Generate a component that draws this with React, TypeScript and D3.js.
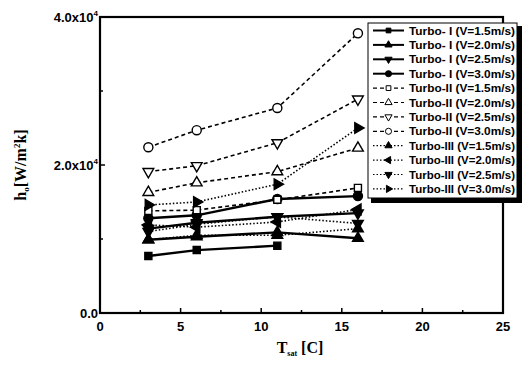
import React, { useEffect, useRef } from 'react';
import * as d3 from 'd3';

// saturation temperature [C]
const temps = [3, 6, 11, 16];

// h_o [W/m2k] per series, null = no point
const turboI_15 = [7700, 8500, 9100, null];
const turboI_20 = [9900, 10300, 10900, 10100];
const turboI_25 = [11400, 12200, 13000, 13500];
const turboI_30 = [12800, 13200, 15400, 15800];
const turboII_15 = [13800, 13900, 15300, 16900];
const turboII_20 = [16300, 17600, 19100, 22300];
const turboII_25 = [19100, 19900, 23000, 28900];
const turboII_30 = [22400, 24700, 27700, 37800];
const turboIII_15 = [9900, 10500, 10500, 11400];
const turboIII_20 = [11900, 11600, 12300, 14000];
const turboIII_25 = [11000, 12000, 13000, 12100];
const turboIII_30 = [14600, 15000, 17400, 25000];

const legendLabels = [
  'Turbo- I (V=1.5m/s)', 'Turbo- I (V=2.0m/s)', 'Turbo- I (V=2.5m/s)', 'Turbo- I (V=3.0m/s)',
  'Turbo-II (V=1.5m/s)', 'Turbo-II (V=2.0m/s)', 'Turbo-II (V=2.5m/s)', 'Turbo-II (V=3.0m/s)',
  'Turbo-III (V=1.5m/s)', 'Turbo-III (V=2.0m/s)', 'Turbo-III (V=2.5m/s)', 'Turbo-III (V=3.0m/s)',
];
const xTicks = [0, 5, 10, 15, 20, 25];
const yTicks = [0, 20000, 40000];

const App = () => {
  const svgRef = useRef<SVGSVGElement>(null);

  useEffect(() => {
    const width = 529;
    const height = 366;
    const margin = { left: 100, top: 17, right: 26, bottom: 53 };

    d3.select(svgRef.current).selectAll('*').remove();
    const svg = d3.select(svgRef.current).attr('width', width).attr('height', height);

    const x = d3.scaleLinear().domain([0, 25]).range([margin.left, width - margin.right]);
    const y = d3.scaleLinear().domain([0, 40000]).range([height - margin.bottom, margin.top]);

    const sans = '"Liberation Sans", Arial, sans-serif';
    const serif = '"Liberation Serif", "Times New Roman", serif';

    // series: values, marker shape, rotation, filled, line style
    const tri = d3.symbolTriangle;
    const series = [
      { v: turboI_15, s: d3.symbolSquare, r: 0, fill: true, dash: null },
      { v: turboI_20, s: tri, r: 0, fill: true, dash: null },
      { v: turboI_25, s: tri, r: 180, fill: true, dash: null },
      { v: turboI_30, s: d3.symbolCircle, r: 0, fill: true, dash: null },
      { v: turboII_15, s: d3.symbolSquare, r: 0, fill: false, dash: '4,3' },
      { v: turboII_20, s: tri, r: 0, fill: false, dash: '4,3' },
      { v: turboII_25, s: tri, r: 180, fill: false, dash: '4,3' },
      { v: turboII_30, s: d3.symbolCircle, r: 0, fill: false, dash: '4,3' },
      { v: turboIII_15, s: tri, r: 0, fill: true, dash: '1.5,2' },
      { v: turboIII_20, s: tri, r: -90, fill: true, dash: '1.5,2' },
      { v: turboIII_25, s: tri, r: 180, fill: true, dash: '1.5,2' },
      { v: turboIII_30, s: tri, r: 90, fill: true, dash: '1.5,2' },
    ];
    const symSize = (s) => (s === d3.symbolCircle ? 65 : s === d3.symbolSquare ? 50 : 50);

    // ticks (inward)
    const minorX = d3.range(2.5, 25, 5);
    svg.append('g').selectAll('line').data(xTicks.concat(minorX)).enter().append('line')
      .attr('x1', d => x(d)).attr('x2', d => x(d))
      .attr('y1', y(0)).attr('y2', d => y(0) - (d % 5 === 0 ? 5 : 3))
      .attr('stroke', '#000').attr('stroke-width', 1.5);
    svg.append('g').selectAll('line').data(yTicks.concat([10000, 30000])).enter().append('line')
      .attr('y1', d => y(d)).attr('y2', d => y(d))
      .attr('x1', x(0)).attr('x2', d => x(0) + (d % 20000 === 0 ? 5 : 3))
      .attr('stroke', '#000').attr('stroke-width', 1.5);

    // frame
    svg.append('rect')
      .attr('x', x(0)).attr('y', y(40000))
      .attr('width', x(25) - x(0)).attr('height', y(0) - y(40000))
      .attr('fill', 'none').attr('stroke', '#000').attr('stroke-width', 2.2);

    // tick labels
    svg.append('g').selectAll('text').data(xTicks).enter().append('text')
      .attr('x', d => x(d)).attr('y', y(0) + 18)
      .attr('text-anchor', 'middle')
      .attr('font-family', sans).attr('font-weight', 'bold').attr('font-size', 13)
      .text(d => d);
    const yl = svg.append('g').selectAll('text').data(yTicks).enter().append('text')
      .attr('x', x(0) - 2).attr('y', d => y(d) + 5)
      .attr('text-anchor', 'end')
      .attr('font-family', sans).attr('font-weight', 'bold').attr('font-size', 13);
    yl.each(function (d) {
      const t = d3.select(this);
      if (d === 0) { t.text('0.0'); return; }
      t.append('tspan').text((d / 10000).toFixed(1) + 'x10');
      t.append('tspan').attr('dy', -6).attr('font-size', 8).text('4');
    });

    // axis titles
    const xt = svg.append('text')
      .attr('x', 300).attr('y', 353).attr('text-anchor', 'middle')
      .attr('font-family', serif).attr('font-weight', 'bold').attr('font-size', 16);
    xt.append('tspan').text('T');
    xt.append('tspan').attr('dy', 3).attr('font-size', 8).text('sat');
    xt.append('tspan').attr('dy', -3).text(' [C]');

    const ytl = svg.append('text')
      .attr('transform', 'translate(26,165) rotate(-90)').attr('text-anchor', 'middle')
      .attr('font-family', serif).attr('font-weight', 'bold').attr('font-size', 16);
    ytl.append('tspan').text('h');
    ytl.append('tspan').attr('dy', 3).attr('font-size', 9).text('o');
    ytl.append('tspan').attr('dy', -3).text('[W/m');
    ytl.append('tspan').attr('dy', -6).attr('font-size', 9).text('2');
    ytl.append('tspan').attr('dy', 6).text('k]');

    // lines and markers
    const line = d3.line<number | null>()
      .defined(d => d != null)
      .x((d, i) => x(temps[i]))
      .y(d => y(d as number));

    series.forEach(sr => {
      svg.append('path')
        .attr('d', line(sr.v))
        .attr('fill', 'none').attr('stroke', '#000')
        .attr('stroke-width', sr.dash ? 1.6 : 2.4)
        .attr('stroke-dasharray', sr.dash);
      svg.append('g').selectAll('path').data(sr.v.map((d, i) => [temps[i], d]).filter(d => d[1] != null))
        .enter().append('path')
        .attr('d', d3.symbol().type(sr.s).size(symSize(sr.s)))
        .attr('transform', d => `translate(${x(d[0])},${y(d[1])}) rotate(${sr.r})`)
        .attr('fill', sr.fill ? '#000' : '#fff')
        .attr('stroke', '#000').attr('stroke-width', 1.4);
    });

    // legend
    const lg = svg.append('g').attr('transform', 'translate(368,23)');
    lg.append('rect').attr('x', 3).attr('y', 3).attr('width', 151).attr('height', 177).attr('fill', '#000');
    lg.append('rect').attr('x', 0).attr('y', 0).attr('width', 149).attr('height', 175)
      .attr('fill', '#fff').attr('stroke', '#000').attr('stroke-width', 1);
    series.forEach((sr, i) => {
      const yy = 7.5 + i * 14.4;
      lg.append('line').attr('x1', 5).attr('x2', 36).attr('y1', yy).attr('y2', yy)
        .attr('stroke', '#000').attr('stroke-width', sr.dash ? 1.2 : 2)
        .attr('stroke-dasharray', sr.dash);
      lg.append('path')
        .attr('d', d3.symbol().type(sr.s).size(symSize(sr.s) * 0.45))
        .attr('transform', `translate(20.5,${yy}) rotate(${sr.r})`)
        .attr('fill', sr.fill ? '#000' : '#fff').attr('stroke', '#000').attr('stroke-width', 1);
      lg.append('text').attr('x', 41).attr('y', yy + 4)
        .attr('font-family', sans).attr('font-weight', 'bold').attr('font-size', 11)
        .attr('textLength', 106).attr('lengthAdjust', 'spacingAndGlyphs')
        .text(legendLabels[i]);
    });
  }, []);

  return (
    <svg ref={svgRef} style={{ position: 'absolute', left: 0, top: 0, background: '#fff' }}></svg>
  );
};

export default App;
